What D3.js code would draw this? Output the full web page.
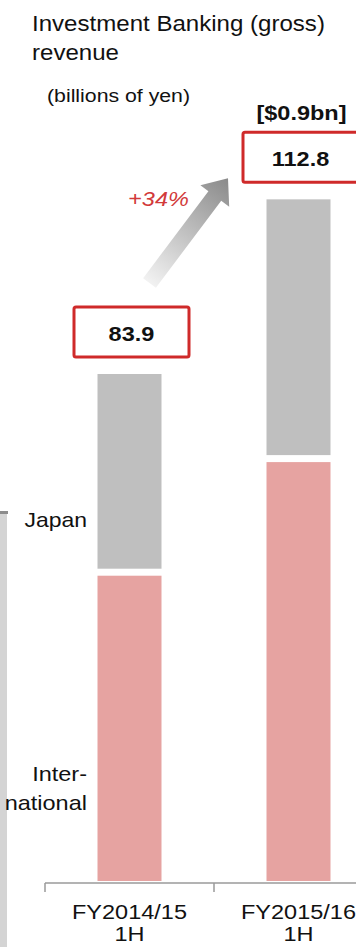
<!DOCTYPE html>
<html>
<head>
<meta charset="utf-8">
<script src="https://cdn.jsdelivr.net/npm/d3@7"></script>
<style>
  html, body { margin: 0; padding: 0; background: #fff; }
  svg { display: block; }
  text { font-family: "Liberation Sans", Arial, sans-serif; fill: #111; }
</style>
</head>
<body>
<svg id="chart" width="356" height="947"></svg>
<script>
// ---- data ----
const categories = ["FY2014/15 1H", "FY2015/16 1H"];
const categoryLines = [["FY2014/15", "1H"], ["FY2015/16", "1H"]];
const international = [51.1, 69.9];
const japan = [32.8, 42.9];
const totalLabels = ["83.9", "112.8"];
const usdLabel = "[$0.9bn]";
const growthLabel = "+34%";
const seriesNames = ["Japan", ["Inter-", "national"]];

// ---- setup ----
const W = 356, H = 947;
const SX = 1.12; // horizontal stretch of the original artwork's type
const svg = d3.select("#chart");

const x = d3.scaleBand().domain(categories).range([45, 383]).padding(0);
const y = d3.scaleLinear().domain([0, 100]).range([881, 276.7]);
const barW = 64;
const gap = 3.5;
const cx = c => x(c) + x.bandwidth() / 2;

function txt(g, tx, ty, s, opts = {}) {
  return g.append("text")
    .attr("transform", `translate(${tx},${ty}) scale(${SX},1)`)
    .attr("text-anchor", opts.anchor || "start")
    .style("font-size", (opts.size || 21) + "px")
    .style("font-weight", opts.weight || "normal")
    .style("font-style", opts.italic ? "italic" : "normal")
    .style("fill", opts.fill || "#111")
    .text(s);
}

// left decorative strip
svg.append("rect").attr("x", 0).attr("y", 512).attr("width", 7).attr("height", H - 512).attr("fill", "#d4d4d4");
svg.append("rect").attr("x", 0).attr("y", 511).attr("width", 8).attr("height", 3).attr("fill", "#8c8c8c");

// titles
txt(svg, 32, 31, "Investment Banking (gross)", { size: 21.5 });
txt(svg, 32, 60, "revenue", { size: 21.5 });
txt(svg, 47, 102, "(billions of yen)", { size: 19 });

// bars
const data = categories.map((c, i) => ({ c, intl: international[i], jp: japan[i], total: international[i] + japan[i], label: totalLabels[i] }));
const bars = svg.append("g");
bars.selectAll("rect.intl").data(data).join("rect")
  .attr("class", "intl")
  .attr("x", d => cx(d.c) - barW / 2)
  .attr("width", barW)
  .attr("y", d => y(d.intl) + gap)
  .attr("height", d => y(0) - y(d.intl) - gap)
  .attr("fill", "#e6a3a1");
bars.selectAll("rect.jp").data(data).join("rect")
  .attr("class", "jp")
  .attr("x", d => cx(d.c) - barW / 2)
  .attr("width", barW)
  .attr("y", d => y(d.total))
  .attr("height", d => y(d.intl) - gap - y(d.total))
  .attr("fill", "#bfbfbf");

// axis
const axisY = 883;
svg.append("line").attr("x1", 45).attr("x2", W).attr("y1", axisY).attr("y2", axisY)
  .attr("stroke", "#9a9a9a").attr("stroke-width", 1.5);
const tickXs = categories.map(c => x(c)).concat([x.range()[1]]);
svg.selectAll("line.tick").data(tickXs).join("line")
  .attr("class", "tick")
  .attr("x1", d => d).attr("x2", d => d)
  .attr("y1", axisY).attr("y2", axisY + 9)
  .attr("stroke", "#9a9a9a").attr("stroke-width", 1.5);

// category labels
data.forEach((d, i) => {
  txt(svg, cx(d.c), 919, categoryLines[i][0], { anchor: "middle", size: 21 });
  txt(svg, cx(d.c), 941, categoryLines[i][1], { anchor: "middle", size: 21 });
});

// series labels
txt(svg, 87, 527, seriesNames[0], { anchor: "end", size: 20.5 });
txt(svg, 87, 781, seriesNames[1][0], { anchor: "end", size: 21 });
txt(svg, 87, 810, seriesNames[1][1], { anchor: "end", size: 21 });

// total boxes
const boxW = 115, boxH = 50;
const boxes = data.map(d => {
  const bx = cx(d.c) + 2 - boxW / 2;
  const by = y(d.total) - 17 - boxH;
  return { d, bx, by };
});
boxes.forEach(b => {
  svg.append("rect").attr("x", b.bx).attr("y", b.by).attr("width", boxW).attr("height", boxH)
    .attr("rx", 2).attr("fill", "#fff").attr("stroke", "#cf2a2a").attr("stroke-width", 3);
  txt(svg, b.bx + boxW / 2, b.by + 34, b.d.label, { anchor: "middle", size: 21, weight: "bold" });
});
txt(svg, boxes[1].bx + boxW / 2 + 1, boxes[1].by - 12, usdLabel, { anchor: "middle", size: 21, weight: "bold" });

// growth arrow
const tail = [boxes[0].bx + boxW / 2 + 18, boxes[0].by - 24];
const tip = [boxes[1].bx - 15, boxes[1].by + 46];
const dx = tip[0] - tail[0], dy = tip[1] - tail[1];
const L = Math.hypot(dx, dy);
const headLen = 22, shaftHW = 8, headHW = 18;
const defs = svg.append("defs");
const grad = defs.append("linearGradient").attr("id", "arrowGrad")
  .attr("gradientUnits", "userSpaceOnUse")
  .attr("x1", tail[0]).attr("y1", tail[1]).attr("x2", tip[0]).attr("y2", tip[1]);
grad.append("stop").attr("offset", "0%").attr("stop-color", "#f2f2f2");
grad.append("stop").attr("offset", "100%").attr("stop-color", "#8a8a8a");
const pts = [[0, -shaftHW], [L - headLen, -shaftHW], [L - headLen, -headHW], [L, 0],
             [L - headLen, headHW], [L - headLen, shaftHW], [0, shaftHW]];
const rad = Math.atan2(dy, dx);
const tp = pts.map(([px, py]) => [tail[0] + px * Math.cos(rad) - py * Math.sin(rad),
                                  tail[1] + px * Math.sin(rad) + py * Math.cos(rad)]);
svg.append("path").attr("d", d3.line()(tp) + "Z").attr("fill", "url(#arrowGrad)");
txt(svg, 158.5, 206, growthLabel, { anchor: "middle", size: 21, italic: true, fill: "#d23a3a" });
</script>
</body>
</html>
